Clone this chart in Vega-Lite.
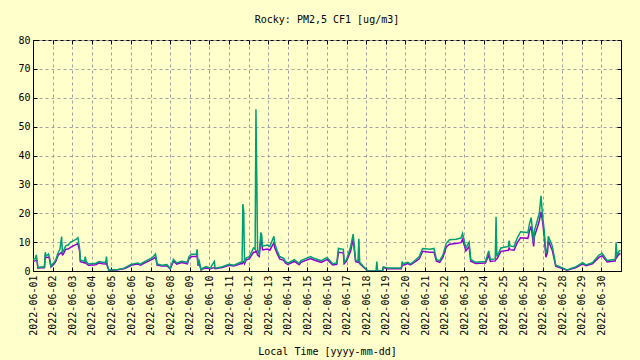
{
 "$schema": "https://vega.github.io/schema/vega-lite/v6.json",
 "width": 588,
 "height": 231,
 "autosize": {"type": "none"},
 "padding": {"left": 33, "top": 40, "right": 19, "bottom": 89},
 "background": "#ffffcc",
 "title": {"text": "Rocky: PM2,5 CF1 [ug/m3]", "font": "DejaVu Sans Mono", "fontSize": 10, "fontWeight": "normal", "color": "black", "offset": 10, "anchor": "middle"},
 "config": {
  "view": {"stroke": "black", "strokeWidth": 1, "fill": "#ffffcc"},
  "axis": {
   "labelFont": "DejaVu Sans Mono", "labelFontSize": 10, "labelColor": "black",
   "titleFont": "DejaVu Sans Mono", "titleFontSize": 10, "titleFontWeight": "normal", "titleColor": "black",
   "tickColor": "black", "domainColor": "black", "tickSize": -4,
   "gridColor": "#a0a0a0", "gridDash": [3, 3], "gridWidth": 1, "gridOpacity": 1
  }
 },
 "data": {"values": [
  {"t":"2022-06-01T00:00","b":4.0,"a":3.4},
  {"t":"2022-06-01T03:00","b":4.3,"a":3.6},
  {"t":"2022-06-01T04:00","b":5.6,"a":3.7},
  {"t":"2022-06-01T05:00","b":3.8,"a":3.3},
  {"t":"2022-06-01T06:00","b":1.2,"a":1.0},
  {"t":"2022-06-01T10:00","b":1.4,"a":1.1},
  {"t":"2022-06-01T14:00","b":1.4,"a":1.1},
  {"t":"2022-06-01T15:00","b":6.5,"a":5.0},
  {"t":"2022-06-01T16:00","b":5.2,"a":4.6},
  {"t":"2022-06-01T19:00","b":5.9,"a":4.8},
  {"t":"2022-06-01T20:00","b":5.0,"a":4.4},
  {"t":"2022-06-01T22:00","b":1.7,"a":1.4},
  {"t":"2022-06-02T02:00","b":3.0,"a":2.5},
  {"t":"2022-06-02T04:00","b":4.0,"a":3.4},
  {"t":"2022-06-02T07:00","b":6.5,"a":5.6},
  {"t":"2022-06-02T09:00","b":7.5,"a":6.0},
  {"t":"2022-06-02T11:00","b":11.9,"a":6.5},
  {"t":"2022-06-02T12:00","b":6.5,"a":5.6},
  {"t":"2022-06-02T13:00","b":6.8,"a":5.8},
  {"t":"2022-06-02T16:00","b":8.7,"a":7.5},
  {"t":"2022-06-02T19:00","b":9.0,"a":7.6},
  {"t":"2022-06-02T22:00","b":10.0,"a":8.2},
  {"t":"2022-06-03T02:00","b":10.5,"a":8.8},
  {"t":"2022-06-03T05:00","b":11.0,"a":9.2},
  {"t":"2022-06-03T07:00","b":11.5,"a":9.5},
  {"t":"2022-06-03T09:00","b":8.0,"a":7.0},
  {"t":"2022-06-03T10:00","b":3.8,"a":3.2},
  {"t":"2022-06-03T15:00","b":3.3,"a":2.8},
  {"t":"2022-06-03T16:00","b":5.0,"a":3.0},
  {"t":"2022-06-03T17:00","b":3.3,"a":2.6},
  {"t":"2022-06-03T20:00","b":2.4,"a":2.0},
  {"t":"2022-06-04T05:00","b":2.7,"a":2.2},
  {"t":"2022-06-04T09:00","b":3.3,"a":2.8},
  {"t":"2022-06-04T13:00","b":3.0,"a":2.5},
  {"t":"2022-06-04T17:00","b":3.0,"a":2.4},
  {"t":"2022-06-04T18:00","b":5.0,"a":2.8},
  {"t":"2022-06-04T19:00","b":2.0,"a":1.6},
  {"t":"2022-06-04T21:00","b":0.3,"a":0.2},
  {"t":"2022-06-05T08:00","b":0.5,"a":0.4},
  {"t":"2022-06-05T15:00","b":0.9,"a":0.8},
  {"t":"2022-06-05T19:00","b":1.5,"a":1.2},
  {"t":"2022-06-06T00:00","b":2.3,"a":2.0},
  {"t":"2022-06-06T08:00","b":2.8,"a":2.4},
  {"t":"2022-06-06T12:00","b":2.3,"a":2.0},
  {"t":"2022-06-06T14:00","b":2.8,"a":2.4},
  {"t":"2022-06-06T22:00","b":4.0,"a":3.5},
  {"t":"2022-06-07T02:00","b":4.6,"a":4.0},
  {"t":"2022-06-07T06:00","b":5.9,"a":4.8},
  {"t":"2022-06-07T08:00","b":2.4,"a":2.0},
  {"t":"2022-06-07T14:00","b":2.0,"a":1.7},
  {"t":"2022-06-07T20:00","b":2.2,"a":1.8},
  {"t":"2022-06-08T00:00","b":0.9,"a":0.7},
  {"t":"2022-06-08T04:00","b":4.0,"a":3.4},
  {"t":"2022-06-08T08:00","b":2.8,"a":2.4},
  {"t":"2022-06-08T14:00","b":3.4,"a":2.9},
  {"t":"2022-06-08T21:00","b":3.0,"a":2.5},
  {"t":"2022-06-08T23:00","b":5.0,"a":4.3},
  {"t":"2022-06-09T02:00","b":5.8,"a":5.0},
  {"t":"2022-06-09T08:00","b":5.8,"a":5.0},
  {"t":"2022-06-09T09:00","b":7.5,"a":5.5},
  {"t":"2022-06-09T10:00","b":2.0,"a":1.8},
  {"t":"2022-06-09T11:00","b":4.0,"a":3.0},
  {"t":"2022-06-09T14:00","b":0.3,"a":0.3},
  {"t":"2022-06-09T16:00","b":1.0,"a":0.8},
  {"t":"2022-06-09T20:00","b":1.5,"a":1.0},
  {"t":"2022-06-10T01:00","b":1.0,"a":0.8},
  {"t":"2022-06-10T06:00","b":3.3,"a":1.2},
  {"t":"2022-06-10T07:00","b":1.0,"a":0.8},
  {"t":"2022-06-10T16:00","b":1.5,"a":1.2},
  {"t":"2022-06-11T00:00","b":2.3,"a":2.0},
  {"t":"2022-06-11T06:00","b":2.0,"a":1.7},
  {"t":"2022-06-11T14:00","b":3.0,"a":2.5},
  {"t":"2022-06-11T16:00","b":3.0,"a":2.5},
  {"t":"2022-06-11T17:00","b":23.2,"a":3.0},
  {"t":"2022-06-11T18:00","b":20.8,"a":3.2},
  {"t":"2022-06-11T19:00","b":3.0,"a":2.5},
  {"t":"2022-06-11T21:00","b":4.5,"a":3.8},
  {"t":"2022-06-12T01:00","b":5.0,"a":4.3},
  {"t":"2022-06-12T06:00","b":8.0,"a":6.5},
  {"t":"2022-06-12T08:00","b":7.5,"a":6.5},
  {"t":"2022-06-12T09:00","b":56.0,"a":7.0},
  {"t":"2022-06-12T10:00","b":31.9,"a":6.5},
  {"t":"2022-06-12T11:00","b":7.0,"a":5.5},
  {"t":"2022-06-12T13:00","b":6.0,"a":5.0},
  {"t":"2022-06-12T15:00","b":13.3,"a":11.0},
  {"t":"2022-06-12T16:00","b":12.5,"a":10.0},
  {"t":"2022-06-12T17:00","b":8.6,"a":7.3},
  {"t":"2022-06-12T23:00","b":9.0,"a":7.6},
  {"t":"2022-06-13T02:00","b":8.5,"a":7.2},
  {"t":"2022-06-13T07:00","b":12.0,"a":9.8},
  {"t":"2022-06-13T08:00","b":9.5,"a":8.0},
  {"t":"2022-06-13T11:00","b":7.0,"a":6.0},
  {"t":"2022-06-13T14:00","b":5.0,"a":4.2},
  {"t":"2022-06-13T19:00","b":4.4,"a":3.7},
  {"t":"2022-06-13T21:00","b":3.3,"a":2.8},
  {"t":"2022-06-14T00:00","b":2.7,"a":2.3},
  {"t":"2022-06-14T08:00","b":3.9,"a":3.3},
  {"t":"2022-06-14T14:00","b":2.6,"a":2.2},
  {"t":"2022-06-14T16:00","b":3.6,"a":3.0},
  {"t":"2022-06-15T04:00","b":5.0,"a":4.3},
  {"t":"2022-06-15T08:00","b":4.4,"a":3.8},
  {"t":"2022-06-15T17:00","b":3.6,"a":3.0},
  {"t":"2022-06-16T00:00","b":4.7,"a":4.0},
  {"t":"2022-06-16T07:00","b":2.5,"a":2.1},
  {"t":"2022-06-16T12:00","b":2.8,"a":2.3},
  {"t":"2022-06-16T14:00","b":7.8,"a":6.5},
  {"t":"2022-06-16T20:00","b":7.5,"a":6.3},
  {"t":"2022-06-16T21:00","b":3.0,"a":2.5},
  {"t":"2022-06-17T00:00","b":4.0,"a":3.4},
  {"t":"2022-06-17T05:00","b":8.5,"a":7.0},
  {"t":"2022-06-17T08:00","b":12.8,"a":11.0},
  {"t":"2022-06-17T11:00","b":3.7,"a":3.2},
  {"t":"2022-06-17T14:00","b":3.5,"a":3.0},
  {"t":"2022-06-17T15:00","b":11.2,"a":3.5},
  {"t":"2022-06-17T16:00","b":3.0,"a":2.6},
  {"t":"2022-06-17T21:00","b":1.5,"a":1.2},
  {"t":"2022-06-18T02:00","b":0.0,"a":0.0},
  {"t":"2022-06-18T12:00","b":0.0,"a":0.0},
  {"t":"2022-06-18T13:00","b":3.3,"a":0.0},
  {"t":"2022-06-18T14:00","b":0.0,"a":0.0},
  {"t":"2022-06-18T20:00","b":0.0,"a":0.0},
  {"t":"2022-06-18T21:00","b":1.5,"a":1.2},
  {"t":"2022-06-19T02:00","b":1.0,"a":0.8},
  {"t":"2022-06-19T19:00","b":1.0,"a":0.8},
  {"t":"2022-06-19T20:00","b":3.3,"a":2.0},
  {"t":"2022-06-19T21:00","b":2.5,"a":2.0},
  {"t":"2022-06-20T03:00","b":3.0,"a":2.6},
  {"t":"2022-06-20T06:00","b":2.5,"a":2.1},
  {"t":"2022-06-20T09:00","b":3.0,"a":2.6},
  {"t":"2022-06-20T13:00","b":4.0,"a":3.4},
  {"t":"2022-06-20T17:00","b":5.0,"a":4.2},
  {"t":"2022-06-20T21:00","b":7.8,"a":6.8},
  {"t":"2022-06-21T06:00","b":7.5,"a":6.5},
  {"t":"2022-06-21T11:00","b":7.8,"a":6.5},
  {"t":"2022-06-21T14:00","b":4.0,"a":3.4},
  {"t":"2022-06-21T18:00","b":3.5,"a":3.0},
  {"t":"2022-06-21T22:00","b":5.6,"a":4.8},
  {"t":"2022-06-22T02:00","b":9.6,"a":8.3},
  {"t":"2022-06-22T06:00","b":10.8,"a":9.3},
  {"t":"2022-06-22T14:00","b":11.0,"a":9.5},
  {"t":"2022-06-22T20:00","b":11.4,"a":9.8},
  {"t":"2022-06-22T22:00","b":13.0,"a":11.0},
  {"t":"2022-06-23T02:00","b":8.0,"a":7.0},
  {"t":"2022-06-23T06:00","b":10.0,"a":8.5},
  {"t":"2022-06-23T08:00","b":4.0,"a":3.4},
  {"t":"2022-06-23T14:00","b":3.0,"a":2.6},
  {"t":"2022-06-24T02:00","b":3.3,"a":2.8},
  {"t":"2022-06-24T06:00","b":7.0,"a":5.5},
  {"t":"2022-06-24T08:00","b":4.0,"a":3.3},
  {"t":"2022-06-24T14:00","b":4.2,"a":3.5},
  {"t":"2022-06-24T15:00","b":18.8,"a":4.0},
  {"t":"2022-06-24T16:00","b":5.0,"a":4.2},
  {"t":"2022-06-24T21:00","b":8.0,"a":6.8},
  {"t":"2022-06-25T06:00","b":8.5,"a":7.2},
  {"t":"2022-06-25T07:00","b":10.5,"a":8.0},
  {"t":"2022-06-25T08:00","b":8.7,"a":7.4},
  {"t":"2022-06-25T13:00","b":8.4,"a":7.2},
  {"t":"2022-06-25T17:00","b":11.5,"a":9.8},
  {"t":"2022-06-25T21:00","b":13.6,"a":11.5},
  {"t":"2022-06-26T06:00","b":13.3,"a":11.3},
  {"t":"2022-06-26T08:00","b":16.5,"a":14.0},
  {"t":"2022-06-26T10:00","b":18.5,"a":15.5},
  {"t":"2022-06-26T13:00","b":10.0,"a":8.5},
  {"t":"2022-06-26T14:00","b":14.0,"a":12.0},
  {"t":"2022-06-26T18:00","b":18.0,"a":15.5},
  {"t":"2022-06-26T20:00","b":20.0,"a":17.5},
  {"t":"2022-06-26T22:00","b":26.0,"a":20.5},
  {"t":"2022-06-27T00:00","b":19.0,"a":17.0},
  {"t":"2022-06-27T02:00","b":14.0,"a":12.0},
  {"t":"2022-06-27T04:00","b":6.1,"a":4.8},
  {"t":"2022-06-27T06:00","b":8.0,"a":6.5},
  {"t":"2022-06-27T07:00","b":12.0,"a":10.5},
  {"t":"2022-06-27T12:00","b":8.5,"a":7.0},
  {"t":"2022-06-27T16:00","b":2.1,"a":1.7},
  {"t":"2022-06-27T18:00","b":1.8,"a":1.5},
  {"t":"2022-06-28T06:00","b":0.4,"a":0.3},
  {"t":"2022-06-28T17:00","b":1.5,"a":1.2},
  {"t":"2022-06-29T01:00","b":2.9,"a":2.5},
  {"t":"2022-06-29T05:00","b":2.1,"a":1.8},
  {"t":"2022-06-29T13:00","b":2.9,"a":2.5},
  {"t":"2022-06-29T21:00","b":5.5,"a":4.7},
  {"t":"2022-06-30T01:00","b":6.1,"a":5.3},
  {"t":"2022-06-30T07:00","b":3.6,"a":3.1},
  {"t":"2022-06-30T16:00","b":4.0,"a":3.5},
  {"t":"2022-06-30T17:00","b":4.0,"a":3.5},
  {"t":"2022-06-30T18:00","b":9.8,"a":6.0},
  {"t":"2022-06-30T19:00","b":5.5,"a":4.8},
  {"t":"2022-06-30T22:00","b":7.0,"a":6.0},
  {"t":"2022-06-30T23:30","b":7.0,"a":6.0}
 ]},
 "layer": [
  {
   "mark": {"type": "line", "interpolate": "linear", "color": "#9400d3", "strokeWidth": 1.5, "clip": true},
   "encoding": {
    "x": {"field": "t", "type": "temporal",
     "scale": {"domain": [{"year": 2022, "month": 6, "date": 1}, {"year": 2022, "month": 6, "date": 30, "hours": 23, "minutes": 59}]},
     "axis": {"orient": "bottom", "format": "%Y-%m-%d", "labelAngle": -90, "tickCount": {"interval": "day", "step": 1}, "labelPadding": 8, "labelOverlap": false, "labelFlush": false, "grid": true, "title": "Local Time [yyyy-mm-dd]", "titlePadding": 11}},
    "y": {"field": "a", "type": "quantitative",
     "scale": {"domain": [0, 80], "nice": false},
     "axis": {"orient": "left", "values": [0, 10, 20, 30, 40, 50, 60, 70, 80], "labelPadding": 7, "grid": true, "title": null}}
   }
  },
  {
   "mark": {"type": "line", "interpolate": "linear", "color": "#009e73", "strokeWidth": 1.5, "clip": true},
   "encoding": {
    "x": {"field": "t", "type": "temporal",
     "axis": {"orient": "top", "labels": false, "domain": false, "grid": false, "tickCount": {"interval": "day", "step": 1}, "title": null}},
    "y": {"field": "b", "type": "quantitative",
     "axis": {"orient": "right", "labels": false, "domain": false, "grid": false, "values": [0, 10, 20, 30, 40, 50, 60, 70, 80], "title": null}}
   }
  }
 ],
 "resolve": {"axis": {"x": "independent", "y": "independent"}}
}
